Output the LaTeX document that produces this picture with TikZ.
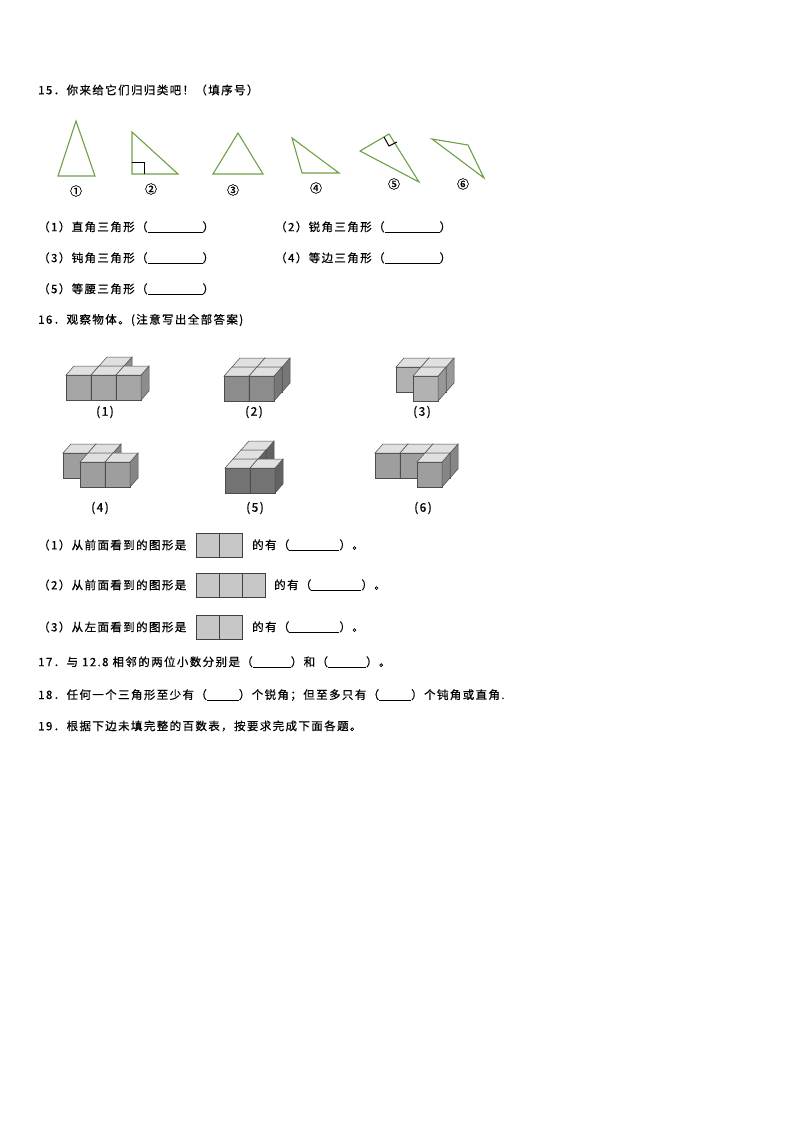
\documentclass[tikz,border=0pt]{standalone}
\usepackage{fontspec}
\setmainfont{Noto Sans CJK SC}[LetterSpace=12,FakeBold=0.6]
\begin{document}
\begin{tikzpicture}[x=1pt,y=-1pt,
  txt/.style={anchor=west,inner sep=0pt,font=\fontsize{11.5}{13}\selectfont},
  lab/.style={inner sep=0pt,font=\fontsize{12}{13}\selectfont},
  tri/.style={draw={rgb,255:red,110;green,160;blue,70},line width=1.1pt,line join=miter},
  vbox/.style={draw=black!75,fill=black!22,line width=0.8pt}]
\useasboundingbox (0,0) rectangle (794,1123);
\newcommand{\blank}[1]{\rule[-1.5pt]{#1}{0.6pt}}
\newcommand{\cub}[6]{%
 \pgfmathsetmacro{\bx}{#1+25*#3+8*#4}\pgfmathsetmacro{\by}{#2-25*#5-9*#4}%
 \filldraw[draw=black!70,fill=black!#6,line width=0.5pt] (\bx,\by) rectangle ++(25,-25);
 \filldraw[draw=black!70,fill=black!#6!white!85!black,line width=0.5pt] (\bx+25,\by) -- ++(8,-9) -- ++(0,-25) -- ++(-8,9) -- cycle;
 \filldraw[draw=black!70,fill=black!12,line width=0.5pt] (\bx,\by-25) -- ++(8,-9) -- ++(25,0) -- ++(-8,9) -- cycle;}
% 15
\node[txt] (q15) at (38,90) {15．你来给它们归归类吧！（填序号）};
\draw[tri] (76,121) -- (58,176) -- (95,176) -- cycle;
\draw[tri] (132,132) -- (132,174) -- (178,174) -- cycle;
\draw[line width=0.7pt] (132,162) -- (144,162) -- (144,174);
\draw[tri] (238,133) -- (213,174) -- (263,174) -- cycle;
\draw[tri] (292,138) -- (302,173) -- (339,173) -- cycle;
\draw[tri] (360,151) -- (389,134) -- (419,182) -- cycle;
\draw[line width=1pt] (384,137) -- (389,146) -- (397,142);
\draw[tri] (432,139) -- (468,145) -- (484,178) -- cycle;
\node[lab] (c1) at (76,191) {①};
\node[lab] (c2) at (151,189) {②};
\node[lab] (c3) at (233,190) {③};
\node[lab] (c4) at (316,188) {④};
\node[lab] (c5) at (394,184) {⑤};
\node[lab] (c6) at (463,184) {⑥};
\node[txt] (a1) at (38,227) {（1）直角三角形（\blank{55pt}）};
\node[txt] (a2) at (275,227) {（2）锐角三角形（\blank{55pt}）};
\node[txt] (a3) at (38,258) {（3）钝角三角形（\blank{55pt}）};
\node[txt] (a4) at (275,258) {（4）等边三角形（\blank{55pt}）};
\node[txt] (a5) at (38,289) {（5）等腰三角形（\blank{55pt}）};
% 16
\node[txt] (q16) at (38,320) {16．观察物体。(注意写出全部答案)};
\cub{66}{400}{1}{1}{0}{35}
\cub{66}{400}{0}{0}{0}{35}\cub{66}{400}{1}{0}{0}{35}\cub{66}{400}{2}{0}{0}{35}
\cub{224}{401}{0}{1}{0}{45}\cub{224}{401}{1}{1}{0}{45}
\cub{224}{401}{0}{0}{0}{45}\cub{224}{401}{1}{0}{0}{45}
\cub{388}{401}{0}{1}{0}{30}\cub{388}{401}{1}{1}{0}{30}
\cub{388}{401}{1}{0}{0}{30}
\cub{55}{487}{0}{1}{0}{38}\cub{55}{487}{1}{1}{0}{38}
\cub{55}{487}{1}{0}{0}{38}\cub{55}{487}{2}{0}{0}{38}
\cub{225}{493}{0}{2}{0}{55}\cub{225}{493}{0}{1}{0}{55}
\cub{225}{493}{0}{0}{0}{55}\cub{225}{493}{1}{0}{0}{55}
\cub{367}{487}{0}{1}{0}{38}\cub{367}{487}{1}{1}{0}{38}\cub{367}{487}{2}{1}{0}{38}
\cub{367}{487}{2}{0}{0}{38}
\node[lab] (f1) at (105,412) {(1)};
\node[lab] (f2) at (254,412) {(2)};
\node[lab] (f3) at (422,412) {(3)};
\node[lab] (f4) at (100,508) {(4)};
\node[lab] (f5) at (255,508) {(5)};
\node[lab] (f6) at (423,508) {(6)};
\node[txt] (b1) at (38,545) {（1）从前面看到的图形是};
\draw[vbox] (196,533) rectangle (219,557); \draw[vbox] (219,533) rectangle (242,557);
\node[txt] (b1e) at (252,545) {的有（\blank{50pt}）。};
\node[txt] (b2) at (38,585) {（2）从前面看到的图形是};
\draw[vbox] (196,573) rectangle (219,597); \draw[vbox] (219,573) rectangle (242,597); \draw[vbox] (242,573) rectangle (265,597);
\node[txt] (b2e) at (274,585) {的有（\blank{50pt}）。};
\node[txt] (b3) at (38,627) {（3）从左面看到的图形是};
\draw[vbox] (196,615) rectangle (219,639); \draw[vbox] (219,615) rectangle (242,639);
\node[txt] (b3e) at (252,627) {的有（\blank{50pt}）。};
\node[txt] (q17) at (38,662) {17．与 12.8 相邻的两位小数分别是（\blank{38pt}）和（\blank{38pt}）。};
\node[txt] (q18) at (38,695) {18．任何一个三角形至少有（\blank{32pt}）个锐角；但至多只有（\blank{32pt}）个钝角或直角.};
\node[txt] (q19) at (38,726) {19．根据下边未填完整的百数表，按要求完成下面各题。};
\end{tikzpicture}
\end{document}
